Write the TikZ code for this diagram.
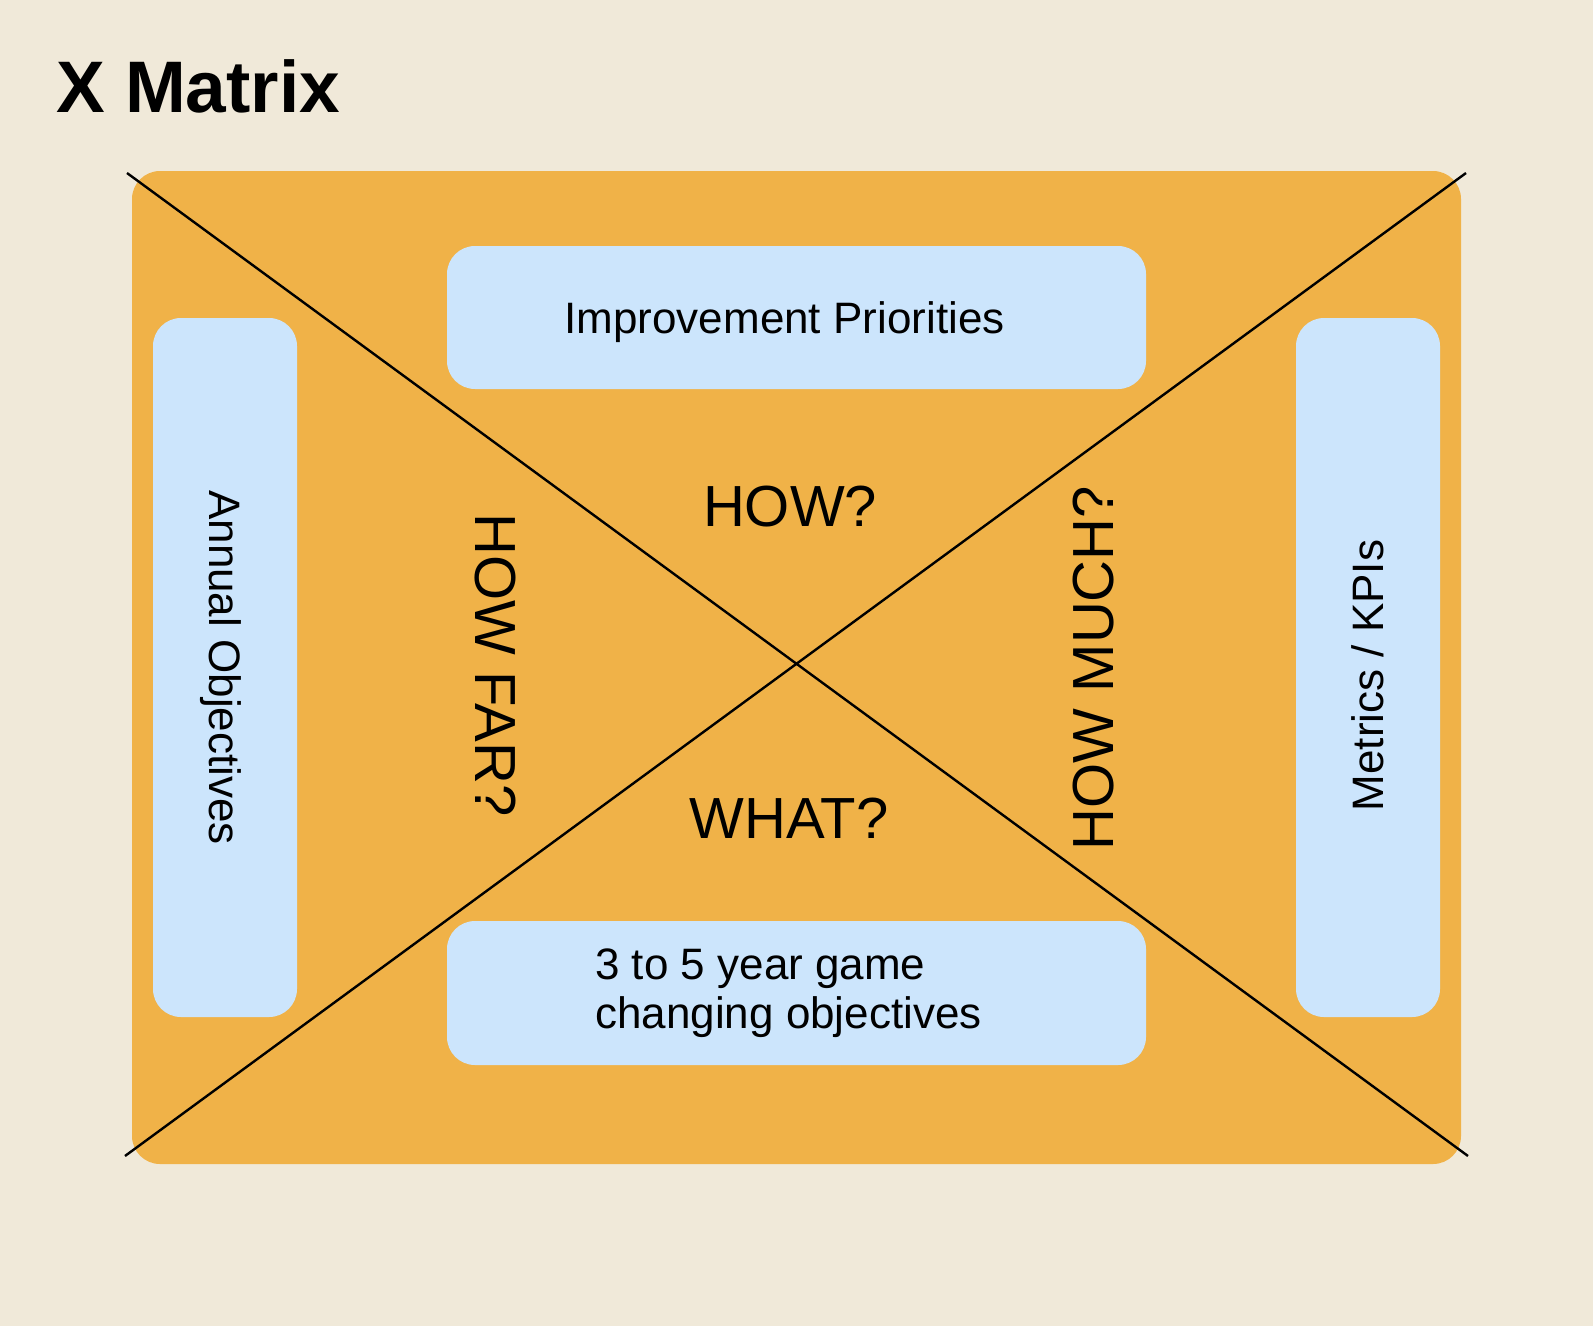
\documentclass[tikz,border=0pt]{standalone}
\usepackage{fontspec}
\setmainfont{Liberation Sans}
\definecolor{bgc}{RGB}{240,233,217}
\definecolor{orangec}{RGB}{240,178,72}
\definecolor{bluec}{RGB}{204,229,252}
\begin{document}
\begin{tikzpicture}[x=1pt,y=-1pt,
  box/.style={fill=bluec, rounded corners=28pt, inner sep=0pt, outer sep=0pt,
    font=\fontsize{44}{49}\selectfont},
  qlabel/.style={font=\fontsize{58}{68}\selectfont, inner sep=0pt},
  xline/.style={line width=2.4pt, black}]
\fill[bgc] (0,0) rectangle (1593,1326);
\useasboundingbox (0,0) rectangle (1593,1326);
% title
\node[anchor=base west, inner sep=0pt, font=\fontsize{73}{88}\selectfont\bfseries] (title) at (56,112) {X Matrix};
% frame
\node[fill=orangec, rounded corners=28pt, minimum width=1329pt, minimum height=993pt, inner sep=0pt, outer sep=0pt] (frame) at (796.5,667.5) {};
% boxes
\node[box, minimum width=699pt, minimum height=143pt, text height=31.5pt, text depth=0pt] (imp) at (796.5,317.5) {Improvement Priorities\hspace*{24pt}};
\node[box, minimum width=699pt, minimum height=144pt, align=left] (goals) at (796.5,993) {3 to 5 year game\\changing objectives\hspace*{16pt}};
\node[box, minimum width=699pt, minimum height=144pt, rotate=-90, text height=31.5pt, text depth=0pt] (annual) at (225,667.5) {Annual Objectives};
\node[box, minimum width=699pt, minimum height=144pt, rotate=90, text height=31.5pt, text depth=0pt] (kpi) at (1368,667.5) {Metrics / KPIs\hspace*{16pt}};
% diagonals
\coordinate (tl) at (127,173);
\coordinate (br) at (1468,1156);
\coordinate (bl) at (125,1156);
\coordinate (tr) at (1466,173);
\draw[xline] (tl) -- (br);
\draw[xline] (bl) -- (tr);
% questions
\node[qlabel] (how) at (790,506.5) {HOW?};
\node[qlabel] (what) at (789,818.5) {WHAT?};
\node[qlabel, rotate=-90] (howfar) at (495,665) {HOW FAR?};
\node[qlabel, rotate=90] (howmuch) at (1094,668) {HOW MUCH?};
\end{tikzpicture}
\end{document}
